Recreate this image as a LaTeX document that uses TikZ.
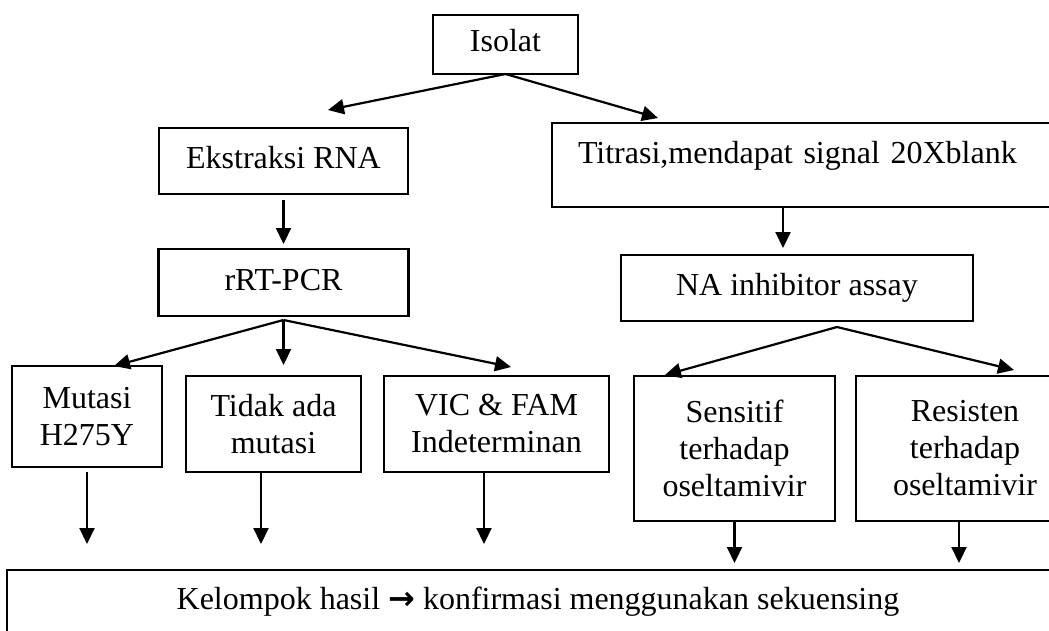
\documentclass[tikz,border=0pt]{standalone}
\usepackage{fontspec}
\setmainfont{Liberation Serif}
\newfontfamily\panahfont{DejaVu Sans}
\usetikzlibrary{positioning,arrows.meta}

\begin{document}
\begin{tikzpicture}[x=0.5pt, y=-0.5pt, node distance=25pt,
                    kotak/.style={draw, line width=1.2pt, inner sep=0pt, outer sep=0pt, align=center,
                                  font=\fontsize{16}{18.5}\selectfont},
                    satu/.style={kotak, text height=11pt, text depth=3.5pt},
                    panah/.style={-{Triangle[length=8pt,width=7.5pt]}, line width=1.1pt}]

\useasboundingbox (0,0) rectangle (1049,631);

\node[satu, minimum width=72.5pt, minimum height=29.5pt] (isolat) at (505.5,44.5) {Isolat};
\node[satu, minimum width=124.5pt, minimum height=33pt] (ekstraksi) [below=27pt of isolat, xshift=-111pt] {Ekstraksi RNA};
\node[satu, minimum width=125pt, minimum height=33.5pt] (rrt) [below=27.5pt of ekstraksi] {rRT-PCR};
\node[kotak, text width=228pt, inner xsep=13pt, align=left, minimum height=42pt,
      text height=12pt, text depth=14pt] (titrasi) [below=24.5pt of isolat, xshift=150.25pt] {Titrasi,mendapat signal 20Xblank};
\node[satu, minimum width=176pt, minimum height=33pt] (na) [below=24pt of titrasi, xshift=-4.5pt] {NA inhibitor assay};

\node[kotak, minimum width=87.5pt, minimum height=48pt] (tidak) [below=30pt of rrt, xshift=-5pt] {Tidak ada\\mutasi};
\node[kotak, minimum width=75pt, minimum height=50.5pt] (mutasi) [left=12pt of tidak, yshift=3.75pt] {Mutasi\\H275Y};
\node[kotak, minimum width=112.5pt, minimum height=48pt] (vic) [right=11.5pt of tidak] {VIC \& FAM\\Indeterminan};
\node[kotak, minimum width=100.5pt, minimum height=72.5pt] (sensitif) [right=12.5pt of vic, yshift=-12.25pt] {Sensitif\\terhadap\\oseltamivir};
\node[kotak, minimum width=109pt, minimum height=72.5pt] (resisten) [right=10.5pt of sensitif] {Resisten\\terhadap\\oseltamivir};

\node[satu, minimum width=531pt, minimum height=32pt] (hasil) [below=24.5pt of sensitif, xshift=-98.25pt]
  {Kelompok hasil {\panahfont\bfseries →} konfirmasi menggunakan sekuensing};

\coordinate (ke-ekstraksi) at ([xshift=22.25pt,yshift=9pt]ekstraksi.north);
\coordinate (ke-titrasi) at ([xshift=53pt,yshift=2.5pt]titrasi.north west);
\coordinate (ke-na) at ([xshift=-7pt,yshift=3.5pt]na.north);
\coordinate (dari-rrt) at ([yshift=-2pt]rrt.south);
\coordinate (ke-mutasi) at ([xshift=13.5pt]mutasi.north);
\coordinate (ke-tidak) at ([yshift=5.5pt]tidak.north);
\coordinate (ke-vic) at ([xshift=7.25pt,yshift=4.5pt]vic.north);
\coordinate (dari-na) at ([xshift=20pt,yshift=-3pt]na.south);
\coordinate (ke-sensitif) at ([xshift=-34.75pt,yshift=.5pt]sensitif.north);
\coordinate (ke-resisten) at ([xshift=24.5pt,yshift=3pt]resisten.north);
\coordinate (dari-tidak) at ([xshift=-6.25pt]tidak.south);
\coordinate (dari-vic) at ([xshift=-6.25pt]vic.south);
\coordinate (dari-resisten) at ([xshift=-3pt]resisten.south);

\path[panah]
    (isolat.south) edge (ke-ekstraksi)
    (isolat.south) edge (ke-titrasi)
    (ekstraksi.south) edge[shorten <=3pt, shorten >=2.5pt] (rrt.north)
    (titrasi.south -| ke-na) edge (ke-na)
    (dari-rrt) edge (ke-mutasi)
    (dari-rrt) edge (dari-rrt |- ke-tidak)
    (dari-rrt) edge (ke-vic)
    (dari-na) edge (ke-sensitif)
    (dari-na) edge (ke-resisten);

\path[panah, shorten >=13pt]
    (mutasi.south) edge[shorten <=2.5pt] (mutasi.south |- hasil.north)
    (dari-tidak) edge (dari-tidak |- hasil.north)
    (dari-vic) edge (dari-vic |- hasil.north);

\path[panah, shorten >=3.5pt]
    (sensitif.south) edge (sensitif.south |- hasil.north)
    (dari-resisten) edge (dari-resisten |- hasil.north);
\end{tikzpicture}
\end{document}
